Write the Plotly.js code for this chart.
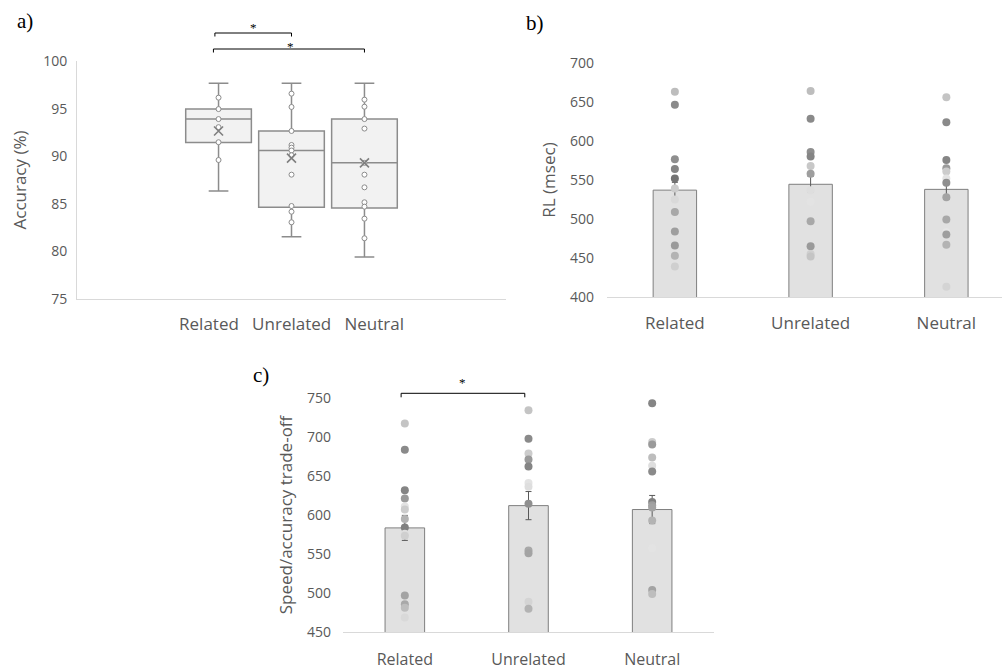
<!DOCTYPE html>
<html><head><meta charset="utf-8">
<script src="https://cdn.plot.ly/plotly-3.0.1.min.js"></script>
<style>html,body{margin:0;padding:0;background:#fff}#chart{width:1002px;height:668px}</style>
</head><body><div id="chart"></div>
<script>
// ---------- data ----------
const categories = ['Related', 'Unrelated', 'Neutral'];
const groupLabel = 'Related\u00a0\u00a0\u00a0Unrelated\u00a0\u00a0\u00a0Neutral';

// a) Accuracy (%) box statistics
const accLower  = [86.35, 81.55, 79.4];
const accQ1     = [91.45, 84.65, 84.55];
const accMedian = [93.9, 90.6, 89.3];
const accQ3     = [94.95, 92.65, 93.9];
const accUpper  = [97.65, 97.65, 97.65];
const accMean   = [92.65, 89.8, 89.3];
// a) inner points
const accRelatedPts   = [96.15, 94.95, 93.9, 93.05, 91.47, 89.6];
const accUnrelatedPts = [96.57, 95.17, 92.65, 91.18, 90.9, 90.6, 90.1, 88.06, 84.77, 84.17, 83.06];
const accNeutralPts   = [95.94, 95.2, 93.9, 92.9, 89.3, 88.06, 86.73, 85.16, 84.7, 83.44, 81.38];

// b) RL (msec)
const rlMean = [537, 544.5, 538];
const rlErr  = [10, 10, 13];
const rlRelated   = [663, 646.5, 576.5, 564, 552, 539, 525, 509, 487, 484, 466, 453, 439];
const rlUnrelated = [664, 628.5, 586, 580, 568, 558, 537, 522, 497, 465, 455, 452];
const rlNeutral   = [656, 624, 575.5, 565, 561, 552, 546.5, 528, 499.5, 483, 480, 467, 413];

// c) Speed/accuracy trade-off
const satMean = [583.5, 612, 607];
const satErr  = [16, 18, 18];
const satRelated   = [717, 683.5, 631.5, 621, 611, 607, 595, 584, 576, 573.5, 497, 486, 481.5, 469];
const satUnrelated = [734, 697.5, 678.5, 671, 662, 641, 636, 614.5, 554.5, 551, 489, 480];
const satNeutral   = [743, 693.5, 690, 673.5, 663, 655.5, 616.5, 612.5, 609.5, 593, 557.5, 504, 499];

// ---------- styles (dot shades) ----------
const rlRelatedShade   = ['#bdbdbd','#8a8a8a','#8f8f8f','#858585','#737373','#cccccc','#d9d9d9','#a8a8a8','#e3e3e3','#9e9e9e','#9a9a9a','#b3b3b3','#cfcfcf'];
const rlUnrelatedShade = ['#bdbdbd','#8a8a8a','#8f8f8f','#858585','#c8c8c8','#9e9e9e','#dedede','#e3e3e3','#a8a8a8','#9a9a9a','#cfcfcf','#c4c4c4'];
const rlNeutralShade   = ['#c4c4c4','#8a8a8a','#858585','#9a9a9a','#cccccc','#e3e3e3','#8f8f8f','#a3a3a3','#a8a8a8','#e6e6e6','#9e9e9e','#b3b3b3','#d4d4d4'];
const satRelatedShade   = ['#c4c4c4','#8a8a8a','#858585','#9a9a9a','#e3e3e3','#cccccc','#b3b3b3','#808080','#dedede','#cfcfcf','#a3a3a3','#a8a8a8','#bdbdbd','#d9d9d9'];
const satUnrelatedShade = ['#c4c4c4','#8a8a8a','#cccccc','#9a9a9a','#858585','#e3e3e3','#dedede','#8f8f8f','#a8a8a8','#a3a3a3','#d4d4d4','#b3b3b3'];
const satNeutralShade   = ['#858585','#cccccc','#9a9a9a','#bdbdbd','#dedede','#8a8a8a','#808080','#9e9e9e','#a3a3a3','#b3b3b3','#e3e3e3','#a3a3a3','#bdbdbd'];

// ---------- layout geometry ----------
const W = 1002, H = 668;
const FONT = 'Open Sans, Liberation Sans, sans-serif';
const TXT = '#595959';
const AXL = '#d9d9d9';
const domA = {x: [77 / W, 506 / W], y: [1 - 299 / H, 1 - 61 / H]};
const domB = {x: [607 / W, 1], y: [1 - 297 / H, 1 - 63 / H]};
const domC = {x: [343 / W, 714 / W], y: [1 - 632.3 / H, 1 - 397.7 / H]};
const rangeA = [-1.94, 3.94], rangeB = [-0.5, 2.41], rangeC = [-0.5, 2.5];

function catToPaper(dom, range, idx) {
  return dom.x[0] + (idx - range[0]) / (range[1] - range[0]) * (dom.x[1] - dom.x[0]);
}
function rep(v, n) { return Array.from({length: n}, () => v); }

const traces = [];
// ----- panel a -----
traces.push({
  type: 'box', x: categories, q1: accQ1, median: accMedian, q3: accQ3,
  lowerfence: accLower, upperfence: accUpper,
  fillcolor: '#f2f2f2', line: {color: '#8c8c8c', width: 1.5},
  whiskerwidth: 0.3, width: 0.9, boxpoints: false, hoverinfo: 'skip',
  xaxis: 'x', yaxis: 'y'
});
[accRelatedPts, accUnrelatedPts, accNeutralPts].forEach((pts, i) => {
  traces.push({
    type: 'scatter', mode: 'markers', x: rep(categories[i], pts.length), y: pts,
    marker: {symbol: 'circle', size: 5, color: '#ffffff', line: {color: '#8c8c8c', width: 1}},
    hoverinfo: 'skip', xaxis: 'x', yaxis: 'y'
  });
});
traces.push({
  type: 'scatter', mode: 'markers', x: categories, y: accMean,
  marker: {symbol: 'x-thin-open', size: 9, color: '#7f7f7f', line: {color: '#7f7f7f', width: 1.6}},
  hoverinfo: 'skip', xaxis: 'x', yaxis: 'y'
});

// ----- bar panels -----
function barPanel(means, errs, series, shades, xa, ya) {
  traces.push({
    type: 'bar', x: categories, y: means, width: 0.32,
    marker: {color: '#e1e1e1', line: {color: '#7f7f7f', width: 1}},
    error_y: {type: 'data', array: errs, visible: true, color: '#595959', thickness: 1, width: 3},
    hoverinfo: 'skip', xaxis: xa, yaxis: ya
  });
  series.forEach((vals, i) => {
    traces.push({
      type: 'scatter', mode: 'markers', x: rep(categories[i], vals.length), y: vals,
      marker: {size: 8, color: shades[i]}, hoverinfo: 'skip', xaxis: xa, yaxis: ya
    });
  });
}
barPanel(rlMean, rlErr, [rlRelated, rlUnrelated, rlNeutral], [rlRelatedShade, rlUnrelatedShade, rlNeutralShade], 'x2', 'y2');
barPanel(satMean, satErr, [satRelated, satUnrelated, satNeutral], [satRelatedShade, satUnrelatedShade, satNeutralShade], 'x3', 'y3');

// ---------- brackets & annotations ----------
const shapes = [];
function bracket(dom, range, i0, i1, yTopPx, dropPx) {
  const x0 = catToPaper(dom, range, i0), x1 = catToPaper(dom, range, i1);
  const yt = 1 - yTopPx / H, yb = 1 - (yTopPx + dropPx) / H;
  const ln = {color: '#000000', width: 1};
  shapes.push({type: 'line', xref: 'paper', yref: 'paper', x0: x0, x1: x1, y0: yt, y1: yt, line: ln});
  shapes.push({type: 'line', xref: 'paper', yref: 'paper', x0: x0, x1: x0, y0: yt, y1: yb, line: ln});
  shapes.push({type: 'line', xref: 'paper', yref: 'paper', x0: x1, x1: x1, y0: yt, y1: yb, line: ln});
}
bracket(domA, rangeA, -0.05, 1.0, 33, 3.5);
bracket(domA, rangeA, -0.07, 2.0, 49, 3.5);
bracket(domC, rangeC, -0.03, 0.97, 393.3, 4);

const annotations = [];
function star(xp, yPx) {
  annotations.push({xref: 'paper', yref: 'paper', x: xp, y: 1 - yPx / H, text: '*', showarrow: false,
    font: {family: 'Liberation Serif, serif', size: 13, color: '#000000'}, xanchor: 'center', yanchor: 'middle'});
}
star(catToPaper(domA, rangeA, 0.48), 27);
star(catToPaper(domA, rangeA, 0.98), 46);
star(catToPaper(domC, rangeC, 0.47), 382);
function panelLabel(t, xPx, yPx) {
  annotations.push({xref: 'paper', yref: 'paper', x: xPx / W, y: 1 - yPx / H, text: t, showarrow: false,
    font: {family: 'Liberation Serif, Times New Roman, serif', size: 21, color: '#000000'}, xanchor: 'center', yanchor: 'middle'});
}
panelLabel('a)', 25, 21);
panelLabel('b)', 535, 23);
panelLabel('c)', 261, 375);

// ---------- axes ----------
function xAxis(dom, range, anchor, fontSize, standoff, extra) {
  return Object.assign({
    domain: dom.x, anchor: anchor, type: 'category', categoryarray: categories, categoryorder: 'array',
    range: range, showline: true, linecolor: AXL, linewidth: 1, showgrid: false, zeroline: false,
    ticks: '', tickfont: {family: FONT, size: fontSize, color: TXT}, ticklabelstandoff: standoff, fixedrange: true
  }, extra || {});
}
function yAxis(dom, range, dtick, anchor, title, lblStandoff, titleStandoff, showline) {
  return {
    domain: dom.y, anchor: anchor, range: range, dtick: dtick, tick0: range[0],
    showline: showline, linecolor: AXL, linewidth: 1, showgrid: false, zeroline: false, ticks: '',
    tickfont: {family: FONT, size: 14, color: TXT}, ticklabelstandoff: lblStandoff,
    title: {text: title, font: {family: FONT, size: 17, color: TXT}, standoff: titleStandoff}, fixedrange: true
  };
}

const layout = {
  width: W, height: H, margin: {l: 0, r: 0, t: 0, b: 0},
  paper_bgcolor: '#ffffff', plot_bgcolor: '#ffffff', showlegend: false,
  font: {family: FONT, color: TXT},
  xaxis: xAxis(domA, rangeA, 'y', 17, 10, {tickmode: 'array', tickvals: ['Unrelated'], ticktext: [groupLabel]}),
  yaxis: yAxis(domA, [75, 100], 5, 'x', 'Accuracy (%)', 6, 12, true),
  xaxis2: xAxis(domB, rangeB, 'y2', 17, 11),
  yaxis2: yAxis(domB, [400, 700], 50, 'x2', 'RL (msec)', 12, 10, false),
  xaxis3: xAxis(domC, rangeC, 'y3', 16, 12),
  yaxis3: yAxis(domC, [450, 750], 50, 'x3', 'Speed/accuracy trade-off', 11, 10, false),
  shapes: shapes, annotations: annotations
};

Plotly.newPlot('chart', traces, layout, {displayModeBar: false, staticPlot: true});
</script></body></html>
